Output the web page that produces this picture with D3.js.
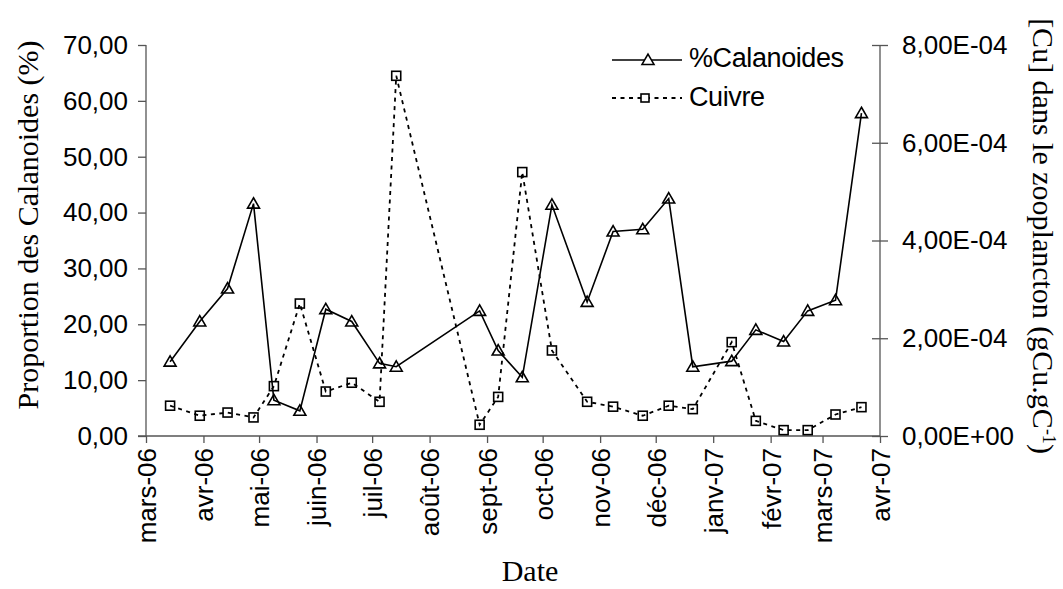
<!DOCTYPE html>
<html>
<head>
<meta charset="utf-8">
<script src="https://cdn.jsdelivr.net/npm/d3@7"></script>
<style>
  html, body { margin: 0; padding: 0; background: #fff; }
  svg { display: block; }
</style>
</head>
<body>
<svg id="chart" width="1063" height="589"></svg>
<script>
// Sampling dates
const sampleDates = ["2006-03-14","2006-03-30","2006-04-14","2006-04-28","2006-05-09","2006-05-23",
  "2006-06-06","2006-06-20","2006-07-05","2006-07-14","2006-08-28","2006-09-07","2006-09-20",
  "2006-10-06","2006-10-25","2006-11-08","2006-11-24","2006-12-08","2006-12-21","2007-01-11",
  "2007-01-24","2007-02-08","2007-02-21","2007-03-08","2007-03-22"];

// Proportion of Calanoids (%)
const calanoides = [13.3, 20.5, 26.4, 41.6, 6.4, 4.5, 22.7, 20.5, 13.0, 12.4, 22.4, 15.3, 10.5,
  41.4, 24.0, 36.6, 37.0, 42.5, 12.4, 13.4, 19.0, 16.9, 22.4, 24.3, 57.8];

// Copper in zooplankton (gCu.gC-1)
const cuivre = [6.2e-5, 4.15e-5, 4.8e-5, 3.8e-5, 1.02e-4, 2.71e-4, 9.1e-5, 1.09e-4, 7.0e-5, 7.37e-4,
  2.3e-5, 8.0e-5, 5.4e-4, 1.75e-4, 7.0e-5, 6.0e-5, 4.15e-5, 6.2e-5, 5.5e-5, 1.92e-4, 3.1e-5,
  1.2e-5, 1.2e-5, 4.4e-5, 5.9e-5];

// Month ticks
const monthTicks = ["2006-03-01","2006-04-01","2006-05-01","2006-06-01","2006-07-01","2006-08-01",
  "2006-09-01","2006-10-01","2006-11-01","2006-12-01","2007-01-01","2007-02-01","2007-03-01","2007-04-01"];
const monthLabels = ["mars-06","avr-06","mai-06","juin-06","juil-06","août-06","sept-06",
  "oct-06","nov-06","déc-06","janv-07","févr-07","mars-07","avr-07"];

const leftTicks = [0, 10, 20, 30, 40, 50, 60, 70];
const rightTicks = [0, 2e-4, 4e-4, 6e-4, 8e-4];

const parse = d3.utcParse("%Y-%m-%d");
const dates = sampleDates.map(parse);
const tickDates = monthTicks.map(parse);

const svg = d3.select("#chart");
const L = 146, R = 880, T = 45, B = 436;
const sans = "'Liberation Sans', Arial, sans-serif";
const serif = "'Liberation Serif', 'Times New Roman', serif";
const axisColor = "#555";
const dotted = "4,4.5";

const x = d3.scaleUtc().domain([tickDates[0], tickDates[tickDates.length - 1]]).range([L, R]);
const yL = d3.scaleLinear().domain([0, 70]).range([B, T]);
const yR = d3.scaleLinear().domain([0, 8e-4]).range([B, T]);

const fmtL = v => d3.format(".2f")(v).replace(".", ",");
const fmtR = v => {
  const s = v.toExponential(2).replace(".", ",");
  const [m, e] = s.split("e");
  const sign = e[0] === "-" ? "-" : "+";
  const digits = e.replace(/[+-]/, "").padStart(2, "0");
  return m + "E" + sign + digits;
};

// Left axis
const gL = svg.append("g").attr("transform", `translate(${L},0)`)
  .call(d3.axisLeft(yL).tickValues(leftTicks).tickFormat(fmtL).tickSize(8).tickPadding(10));
// Right axis (ticks cross the axis line)
const gR = svg.append("g").attr("transform", `translate(${R},0)`)
  .call(d3.axisRight(yR).tickValues(rightTicks).tickFormat(fmtR).tickSize(8).tickPadding(14));
gR.selectAll(".tick line").attr("x1", -8);
// Bottom axis
const monthLabel = new Map(tickDates.map((d, i) => [+d, monthLabels[i]]));
const gB = svg.append("g").attr("transform", `translate(0,${B})`)
  .call(d3.axisBottom(x).tickValues(tickDates).tickFormat(d => monthLabel.get(+d)).tickSize(7).tickPadding(0));

[gL, gR, gB].forEach(g => {
  g.selectAll(".domain").attr("stroke", axisColor).attr("stroke-width", 1.3);
  g.selectAll(".tick line").attr("stroke", axisColor).attr("stroke-width", 1.3);
  g.selectAll(".tick text").attr("font-family", sans).attr("font-size", 26).attr("fill", "#000");
});
gB.selectAll(".tick text")
  .attr("transform", "rotate(-90)")
  .attr("text-anchor", "end")
  .attr("dy", "0.36em")
  .attr("x", -12)
  .attr("y", 0);
gL.select(".domain").attr("d", `M0,${T}V${B}`);
gR.select(".domain").attr("d", `M0,${T}V${B}`);
gB.select(".domain").attr("d", `M${L - 8},0H${R}`);

// Series lines
const lineCal = d3.line().x((d, i) => x(dates[i])).y(d => yL(d));
const lineCu = d3.line().x((d, i) => x(dates[i])).y(d => yR(d));

svg.append("path").datum(cuivre).attr("d", lineCu)
  .attr("fill", "none").attr("stroke", "#000").attr("stroke-width", 1.8)
  .attr("stroke-dasharray", dotted);
svg.append("path").datum(calanoides).attr("d", lineCal)
  .attr("fill", "none").attr("stroke", "#000").attr("stroke-width", 1.6);

const tri = d3.symbol().type(d3.symbolTriangle).size(62);
svg.append("g").selectAll("path").data(calanoides).join("path")
  .attr("d", tri)
  .attr("transform", (d, i) => `translate(${x(dates[i])},${yL(d) + 1})`)
  .attr("fill", "none").attr("stroke", "#000").attr("stroke-width", 1.6);

svg.append("g").selectAll("rect").data(cuivre).join("rect")
  .attr("x", (d, i) => x(dates[i]) - 4.5)
  .attr("y", d => yR(d) - 4.5)
  .attr("width", 9).attr("height", 9)
  .attr("fill", "none").attr("stroke", "#000").attr("stroke-width", 1.6);

// Legend
const leg = svg.append("g");
leg.append("line").attr("x1", 612).attr("x2", 682).attr("y1", 60).attr("y2", 60)
  .attr("stroke", "#000").attr("stroke-width", 1.6);
leg.append("path").attr("d", tri).attr("transform", "translate(648,61)")
  .attr("fill", "#fff").attr("stroke", "#000").attr("stroke-width", 1.6);
leg.append("text").attr("x", 689).attr("y", 67).text("%Calanoides")
  .attr("font-family", sans).attr("font-size", 27).attr("letter-spacing", -0.4);
leg.append("line").attr("x1", 612).attr("x2", 682).attr("y1", 98).attr("y2", 98)
  .attr("stroke", "#000").attr("stroke-width", 1.8).attr("stroke-dasharray", dotted);
leg.append("rect").attr("x", 641).attr("y", 94).attr("width", 8).attr("height", 8)
  .attr("fill", "#fff").attr("stroke", "#000").attr("stroke-width", 1.6);
leg.append("text").attr("x", 689).attr("y", 106).text("Cuivre")
  .attr("font-family", sans).attr("font-size", 27).attr("letter-spacing", -0.4);

// Axis titles
svg.append("text")
  .attr("transform", `translate(38,225) rotate(-90)`)
  .attr("text-anchor", "middle")
  .attr("font-family", serif).attr("font-size", 30)
  .text("Proportion des Calanoides (%)");

const rt = svg.append("text")
  .attr("transform", `translate(1033,236) rotate(90)`)
  .attr("text-anchor", "middle")
  .attr("font-family", serif).attr("font-size", 30);
rt.append("tspan").text("[Cu] dans le zooplancton (gCu.gC");
rt.append("tspan").attr("baseline-shift", "super").attr("font-size", 18).text("-1");
rt.append("tspan").text(")");

svg.append("text")
  .attr("x", 530).attr("y", 581)
  .attr("text-anchor", "middle")
  .attr("font-family", serif).attr("font-size", 30)
  .text("Date");
</script>
</body>
</html>
